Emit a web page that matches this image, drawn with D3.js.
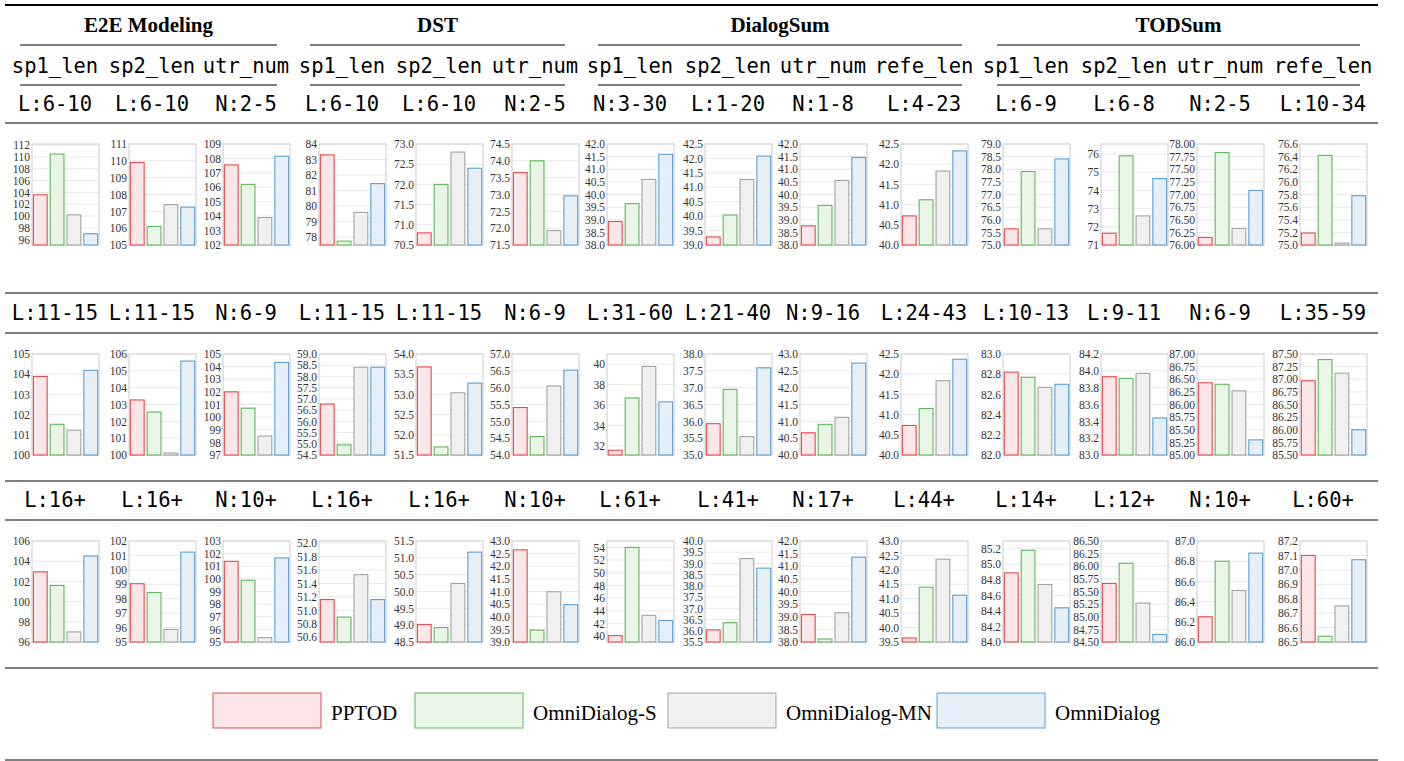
<!DOCTYPE html>
<html>
<head>
<meta charset="utf-8">
<script src="https://cdn.jsdelivr.net/npm/d3@7"></script>
<style>
  body { margin: 0; background: #fff; }
  svg { display: block; }
</style>
</head>
<body>
<svg id="chart"></svg>
<script>
const W = 1404, H = 761;

const series = ["PPTOD", "OmniDialog-S", "OmniDialog-MN", "OmniDialog"];
const groups = ["E2E Modeling", "DST", "DialogSum", "TODSum"];
const fields = ["sp1_len", "sp2_len", "utr_num", "sp1_len", "sp2_len", "utr_num",
  "sp1_len", "sp2_len", "utr_num", "refe_len", "sp1_len", "sp2_len", "utr_num", "refe_len"];

const rowLabels1 = ["L:6-10", "L:6-10", "N:2-5", "L:6-10", "L:6-10", "N:2-5",
  "N:3-30", "L:1-20", "N:1-8", "L:4-23", "L:6-9", "L:6-8", "N:2-5", "L:10-34"];
const rowLabels2 = ["L:11-15", "L:11-15", "N:6-9", "L:11-15", "L:11-15", "N:6-9",
  "L:31-60", "L:21-40", "N:9-16", "L:24-43", "L:10-13", "L:9-11", "N:6-9", "L:35-59"];
const rowLabels3 = ["L:16+", "L:16+", "N:10+", "L:16+", "L:16+", "N:10+",
  "L:61+", "L:41+", "N:17+", "L:44+", "L:14+", "L:12+", "N:10+", "L:60+"];

// bar values: PPTOD, OmniDialog-S, OmniDialog-MN, OmniDialog
const values1 = [
  [103.6, 110.5, 100.2, 97.0],
  [109.9, 106.1, 107.4, 107.25],
  [107.55, 106.2, 103.9, 108.15],
  [83.3, 77.75, 79.6, 81.45],
  [70.8, 72.0, 72.8, 72.4],
  [73.65, 74.0, 71.93, 72.96],
  [38.93, 39.64, 40.6, 41.59],
  [39.28, 40.04, 41.27, 42.08],
  [38.76, 39.57, 40.56, 41.47],
  [40.72, 41.12, 41.83, 42.33],
  [75.64, 77.91, 75.64, 78.41],
  [71.65, 75.9, 72.6, 74.65],
  [76.15, 77.83, 76.33, 77.08],
  [75.19, 76.42, 75.03, 75.78]
];
const values2 = [
  [103.89, 101.52, 101.23, 104.19],
  [103.27, 102.55, 100.12, 105.58],
  [102.0, 100.71, 98.5, 104.33],
  [56.77, 54.95, 58.41, 58.41],
  [53.68, 51.7, 53.04, 53.28],
  [55.41, 54.55, 56.05, 56.52],
  [31.56, 36.69, 39.78, 36.31],
  [35.93, 36.95, 35.55, 37.59],
  [40.66, 40.91, 41.12, 42.73],
  [40.73, 41.15, 41.84, 42.37],
  [82.82, 82.77, 82.67, 82.70],
  [83.93, 83.91, 83.97, 83.44],
  [86.43, 86.40, 86.27, 85.30],
  [86.97, 87.39, 87.12, 86.0]
];
const values3 = [
  [102.95, 101.6, 97.0, 104.52],
  [99.04, 98.43, 95.87, 101.23],
  [101.39, 99.89, 95.35, 101.66],
  [51.16, 50.9, 51.53, 51.16],
  [49.02, 48.93, 50.24, 51.17],
  [42.65, 39.47, 40.99, 40.48],
  [40.1, 54.0, 43.3, 42.5],
  [36.04, 36.36, 39.22, 38.79],
  [39.09, 38.12, 39.16, 41.36],
  [39.64, 41.4, 42.37, 41.12],
  [84.89, 85.18, 84.74, 84.44],
  [85.66, 86.06, 85.27, 84.65],
  [86.25, 86.8, 86.51, 86.88],
  [87.10, 86.54, 86.75, 87.07]
];

// y axes: [domain lo, domain hi, first tick, last tick, tick step, decimals]
const axes1 = [
  [95.1, 112.2, 96, 112, 2, 0],
  [105, 111, 105, 111, 1, 0],
  [102, 109, 102, 109, 1, 0],
  [77.5, 84, 78, 84, 1, 0],
  [70.5, 73, 70.5, 73, 0.5, 1],
  [71.5, 74.5, 71.5, 74.5, 0.5, 1],
  [38, 42, 38, 42, 0.5, 1],
  [39, 42.5, 39, 42.5, 0.5, 1],
  [38, 42, 38, 42, 0.5, 1],
  [40, 42.5, 40, 42.5, 0.5, 1],
  [75, 79, 75, 79, 0.5, 1],
  [71, 76.55, 71, 76, 1, 0],
  [76, 78, 76, 78, 0.25, 2],
  [75, 76.6, 75, 76.6, 0.2, 1]
];
const axes2 = [
  [100, 105, 100, 105, 1, 0],
  [100, 106, 100, 106, 1, 0],
  [97, 105, 97, 105, 1, 0],
  [54.5, 59, 54.5, 59, 0.5, 1],
  [51.5, 54, 51.5, 54, 0.5, 1],
  [54, 57, 54, 57, 0.5, 1],
  [31.1, 41, 32, 40, 2, 0],
  [35, 38, 35, 38, 0.5, 1],
  [40, 43, 40, 43, 0.5, 1],
  [40, 42.5, 40, 42.5, 0.5, 1],
  [82, 83, 82, 83, 0.2, 1],
  [83, 84.2, 83, 84.2, 0.2, 1],
  [85, 87, 85, 87, 0.25, 2],
  [85.5, 87.5, 85.5, 87.5, 0.25, 2]
];
const axes3 = [
  [96, 106, 96, 106, 2, 0],
  [95, 102, 95, 102, 1, 0],
  [95, 103, 95, 103, 1, 0],
  [50.53, 52.03, 50.6, 52, 0.2, 1],
  [48.5, 51.5, 48.5, 51.5, 0.5, 1],
  [39, 43, 39, 43, 0.5, 1],
  [39.1, 55, 40, 54, 2, 0],
  [35.5, 40, 35.5, 40, 0.5, 1],
  [38, 42, 38, 42, 0.5, 1],
  [39.5, 43, 39.5, 43, 0.5, 1],
  [84, 85.3, 84, 85.2, 0.2, 1],
  [84.5, 86.5, 84.5, 86.5, 0.25, 2],
  [86, 87, 86, 87, 0.2, 1],
  [86.5, 87.2, 86.5, 87.2, 0.1, 1]
];

const fills = ["#fce6e8", "#e9f5e5", "#f0f0f0", "#e6eff8"];
const strokes = ["#e5484f", "#5db95a", "#a3a3a3", "#5b9fd3"];

const serif = "'Liberation Serif', 'DejaVu Serif', serif";
const mono = "'DejaVu Sans Mono', monospace";

// layout
const colCenters = [55, 152, 246, 342, 439, 535, 630, 728, 823, 924, 1026, 1124, 1220, 1323];
const groupSpans = [[20, 277], [310, 565], [598, 962], [997, 1360]];
const rowTops = [144, 354, 541];
const labelYs = [111, 320, 507];
const chartH = 101;
const legendX = [213, 415, 668, 937];

const svg = d3.select("#chart").attr("width", W).attr("height", H);

const rule = (y, x1, x2, w) =>
  svg.append("line")
    .attr("x1", x1).attr("x2", x2).attr("y1", y).attr("y2", y)
    .attr("stroke", "#000").attr("stroke-width", w);

// table rules
rule(5, 5, 1378, 2);
[123, 293, 333, 481, 520, 668, 760].forEach((y) => rule(y, 5, 1378, 1.2));
groupSpans.forEach(([a, b]) => { rule(45, a, b, 1); rule(85, a, b, 1); });

// group headers
svg.append("g").selectAll("text").data(groups).enter().append("text")
  .attr("x", (d, i) => (groupSpans[i][0] + groupSpans[i][1]) / 2)
  .attr("y", 32)
  .attr("text-anchor", "middle")
  .attr("font-family", serif).attr("font-weight", "bold").attr("font-size", 21)
  .text((d) => d);

// field names
svg.append("g").selectAll("text").data(fields).enter().append("text")
  .attr("x", (d, i) => colCenters[i])
  .attr("y", 73)
  .attr("text-anchor", "middle")
  .attr("font-family", mono).attr("font-size", 20.5)
  .text((d) => d);

const rows = [
  { labels: rowLabels1, values: values1, axes: axes1 },
  { labels: rowLabels2, values: values2, axes: axes2 },
  { labels: rowLabels3, values: values3, axes: axes3 }
];

rows.forEach((row, r) => {
  svg.append("g").selectAll("text").data(row.labels).enter().append("text")
    .attr("x", (d, i) => colCenters[i])
    .attr("y", labelYs[r])
    .attr("text-anchor", "middle")
    .attr("font-family", mono).attr("font-size", 20.5)
    .text((d) => d);

  row.values.forEach((vals, c) => {
    const [lo, hi, t0, t1, step, dec] = row.axes[c];
    const x0 = colCenters[c] - 23, x1 = colCenters[c] + 44;
    const top = rowTops[r], bottom = top + chartH;

    const x = d3.scaleBand().domain(series).range([x0, x1])
      .paddingInner(0.18).paddingOuter(0.08);
    const y = d3.scaleLinear().domain([lo, hi]).range([bottom, top]);
    const ticks = d3.range(t0, t1 + step / 2, step);

    const g = svg.append("g").attr("class", "mini");

    // gridlines
    g.selectAll(".grid").data(ticks).enter().append("line")
      .attr("class", "grid")
      .attr("x1", x0).attr("x2", x1)
      .attr("y1", (d) => y(d)).attr("y2", (d) => y(d))
      .attr("stroke", "#e9e9e9").attr("stroke-width", 1);

    // frame
    g.append("rect")
      .attr("x", x0).attr("y", top).attr("width", x1 - x0).attr("height", chartH)
      .attr("fill", "none").attr("stroke", "#d4d4d4").attr("stroke-width", 1.2);

    // y axis
    const axis = g.append("g")
      .attr("transform", `translate(${x0},0)`)
      .call(d3.axisLeft(y).tickValues(ticks).tickSize(0).tickPadding(2)
        .tickFormat((d) => d.toFixed(dec)));
    axis.select(".domain").remove();
    axis.selectAll("text")
      .attr("font-family", serif).attr("font-size", 11.5).attr("fill", "#333");

    // bars
    g.selectAll(".bar").data(vals).enter().append("rect")
      .attr("class", "bar")
      .attr("x", (d, i) => x(series[i]))
      .attr("y", (d) => y(d))
      .attr("width", x.bandwidth())
      .attr("height", (d) => y(lo) - y(d))
      .attr("fill", (d, i) => fills[i])
      .attr("stroke", (d, i) => strokes[i])
      .attr("stroke-width", 1.1);
  });
});

// legend
const leg = svg.append("g").selectAll("g").data(series).enter().append("g")
  .attr("transform", (d, i) => `translate(${legendX[i]},693)`);
leg.append("rect")
  .attr("width", 108).attr("height", 35)
  .attr("fill", (d, i) => fills[i])
  .attr("stroke", (d, i) => strokes[i]).attr("stroke-width", 1);
leg.append("text")
  .attr("x", 118).attr("y", 27)
  .attr("font-family", serif).attr("font-size", 21)
  .text((d) => d);
</script>
</body>
</html>
